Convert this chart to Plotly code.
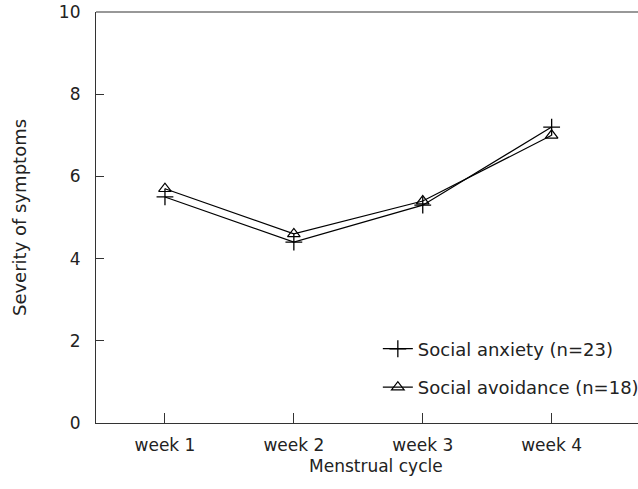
import plotly.graph_objects as go

weeks = ["week 1", "week 2", "week 3", "week 4"]
week_pos = [1, 2, 3, 4]
anxiety = [5.5, 4.4, 5.3, 7.2]
avoidance = [5.7, 4.6, 5.4, 7.0]
y_ticks = [0, 2, 4, 6, 8, 10]

FONT = "DejaVu Sans, Verdana, sans-serif"

fig = go.Figure()
fig.add_trace(go.Scatter(
    x=week_pos, y=anxiety, mode="lines+markers",
    name="Social anxiety (n=23)", legendgroup="a",
    line=dict(color="black", width=1.2),
    marker=dict(symbol="cross-thin-open", size=12, color="black",
                line=dict(color="black", width=1.3)),
))
fig.add_trace(go.Scatter(
    x=week_pos, y=avoidance, mode="lines+markers",
    name="Social avoidance (n=18)", legendgroup="b",
    line=dict(color="black", width=1.2),
    marker=dict(symbol="triangle-up-open", size=11, color="black",
                line=dict(color="black", width=1.2)),
))

# top frame line
fig.add_shape(type="line", xref="paper", yref="paper", x0=0, x1=1, y0=1, y1=1,
              line=dict(color="#333", width=1.2))

fig.add_annotation(text="Menstrual cycle", xref="paper", yref="paper",
                   x=0.517, y=0, yshift=-43, xanchor="center", yanchor="middle",
                   showarrow=False, font=dict(size=17))

fig.update_layout(
    width=638, height=489,
    margin=dict(l=96, r=0, t=12, b=66, autoexpand=False),
    paper_bgcolor="white", plot_bgcolor="white",
    font=dict(family=FONT, size=16, color="#222"),
    showlegend=True,
    legend=dict(x=0.52, y=0.225, xanchor="left", yanchor="top",
                bgcolor="rgba(0,0,0,0)", font=dict(size=18),
                traceorder="grouped", tracegroupgap=12, itemsizing="trace"),
    xaxis=dict(
        range=[0.465, 4.67], tickvals=week_pos, ticktext=weeks,
        showline=True, linecolor="#333", linewidth=1.2, mirror=False,
        ticks="inside", ticklen=10, tickcolor="#333", tickwidth=1,
        showgrid=False, zeroline=False, ticklabelstandoff=6,
        automargin=False, tickfont=dict(size=17),
    ),
    yaxis=dict(
        range=[0, 10], tickvals=y_ticks,
        showline=True, linecolor="#333", linewidth=1.2,
        ticks="inside", ticklen=8, tickcolor="#333", tickwidth=1,
        showgrid=False, zeroline=False, ticklabelstandoff=11,
        automargin=False, tickfont=dict(size=17),
        title=dict(text="Severity of symptoms", standoff=27, font=dict(size=18)),
    ),
)

fig.write_html("out.html", config={"displayModeBar": False},
               post_script="document.body.style.margin='0';")
